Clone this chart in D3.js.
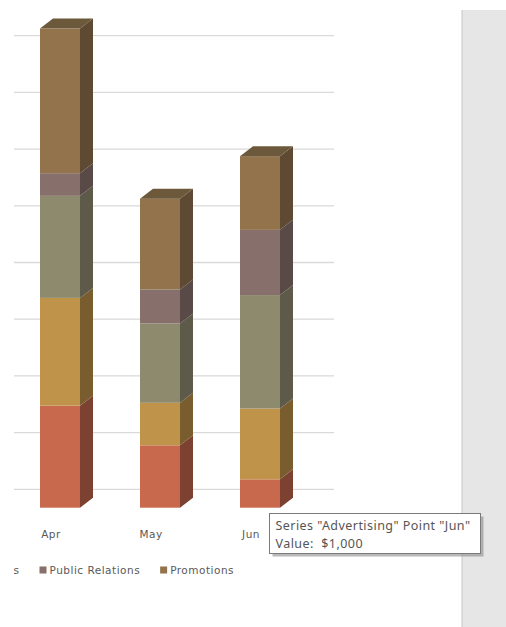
<!DOCTYPE html>
<html>
<head>
<meta charset="utf-8">
<script src="https://cdn.jsdelivr.net/npm/d3@7"></script>
<style>
  html, body { margin: 0; padding: 0; background: #fff; }
  svg { display: block; }
</style>
</head>
<body>
<svg id="chart" width="506" height="627"></svg>
<script>
// ---- data ----
const categories = ["Apr", "May", "Jun"];
const seriesNames = ["Advertising", "Direct Marketing", "Trade Shows", "Public Relations", "Promotions"];
const advertising     = [3600, 2200, 1000];
const directMarketing = [3800, 1500, 2500];
const tradeShows      = [3600, 2800, 4000];
const publicRelations = [800, 1200, 2300];
const promotions      = [5100, 3200, 2600];
const yTickValues = [0, 2000, 4000, 6000, 8000, 10000, 12000, 14000, 16000, 18000];
const tooltipSeries = "Advertising";
const tooltipPoint = "Jun";

// ---- styles ----
const frontColors = ["#C8694D", "#BF944A", "#8E8A6D", "#87706B", "#92734C"];
const sideColors  = ["#7D4132", "#7A5D2E", "#5D5A4A", "#594947", "#5E4A32"];
const topColor    = "#6C583B";

const seriesValues = [advertising, directMarketing, tradeShows, publicRelations, promotions];
const rows = categories.map((c, i) => {
  const r = { cat: c };
  seriesNames.forEach((s, j) => r[s] = seriesValues[j][i]);
  return r;
});
const stack = d3.stack().keys(seriesNames)(rows);

const svg = d3.select("#chart");
const baseY = 507.7;
const y = d3.scaleLinear().domain([0, 18000]).range([baseY, baseY - 18 * 28.35]);
const x = d3.scaleBand().domain(categories).range([10, 310]).paddingInner(0.6).paddingOuter(0.3);
const dx = 13, dy = -10;         // bar depth
const wallDy = -18.4;            // back wall offset

svg.append("defs").append("clipPath").attr("id", "chartClip")
  .append("rect").attr("x", 13).attr("y", 0).attr("width", 493).attr("height", 627);

// gridlines on back wall
svg.append("g").selectAll("line")
  .data(yTickValues)
  .join("line")
  .attr("x1", 14).attr("x2", 334)
  .attr("y1", d => y(d) + wallDy).attr("y2", d => y(d) + wallDy)
  .attr("stroke", "#d9d9d9").attr("stroke-width", 1.3);

// bars
const bars = svg.append("g");
categories.forEach((c, i) => {
  const x0 = x(c), x1 = x0 + x.bandwidth();
  const g = bars.append("g");
  stack.forEach((layer, j) => {
    const yb = y(layer[i][0]), yt = y(layer[i][1]);
    g.append("rect")
      .attr("x", x0).attr("y", yt).attr("width", x1 - x0).attr("height", yb - yt)
      .attr("fill", frontColors[j]);
    g.append("path")
      .attr("d", `M${x1},${yt}L${x1 + dx},${yt + dy}L${x1 + dx},${yb + dy}L${x1},${yb}Z`)
      .attr("fill", sideColors[j]);
  });
  const topV = y(stack[stack.length - 1][i][1]);
  g.append("path")
    .attr("d", `M${x0},${topV}L${x0 + dx},${topV + dy}L${x1 + dx},${topV + dy}L${x1},${topV}Z`)
    .attr("fill", topColor);
});

// category labels
svg.append("g").selectAll("text")
  .data(categories)
  .join("text")
  .attr("x", d => x(d) + x.bandwidth() / 2 - 9)
  .attr("y", 538)
  .attr("text-anchor", "middle")
  .attr("font-family", "DejaVu Sans, sans-serif")
  .attr("font-size", 10.5)
  .attr("letter-spacing", 0.5)
  .attr("fill", "#595959")
  .text(d => d);

// legend (left part cropped off by the chart area edge)
const legend = svg.append("g").attr("clip-path", "url(#chartClip)")
  .attr("font-family", "DejaVu Sans, sans-serif")
  .attr("font-size", 10.5).attr("letter-spacing", 0.5).attr("fill", "#595959");
const prIndex = seriesNames.indexOf("Public Relations");
const items = seriesNames.map((s, j) => {
  const g = legend.append("g");
  g.append("rect").attr("x", 0).attr("y", -3.5).attr("width", 7).attr("height", 7).attr("fill", frontColors[j]);
  const t = g.append("text").attr("x", 10).attr("y", 4).text(s);
  return { g, w: 10 + t.node().getComputedTextLength() };
});
const gap = 20;
let pos = [];
pos[prIndex] = 39.5;
for (let j = prIndex - 1; j >= 0; j--) pos[j] = pos[j + 1] - gap - items[j].w;
for (let j = prIndex + 1; j < items.length; j++) pos[j] = pos[j - 1] + items[j - 1].w + gap;
items.forEach((it, j) => it.g.attr("transform", `translate(${pos[j]},570)`));

// right gray panel
svg.append("rect").attr("x", 462).attr("y", 10).attr("width", 44).attr("height", 617).attr("fill", "#e6e6e6");
svg.append("line").attr("x1", 462).attr("x2", 462).attr("y1", 10).attr("y2", 627).attr("stroke", "#c6c6c6").attr("stroke-width", 1);

// tooltip
const tip = svg.append("g").attr("transform", "translate(269.5,513.5)");
tip.append("rect").attr("x", 3).attr("y", 3).attr("width", 211).attr("height", 40).attr("fill", "#8a8a8a").attr("opacity", 0.6);
tip.append("rect").attr("width", 211).attr("height", 40).attr("fill", "#fff").attr("stroke", "#7a7a7a");
const tipVal = advertising[categories.indexOf(tooltipPoint)];
tip.append("text").attr("x", 6).attr("y", 16)
  .attr("font-family", "Noto Sans, sans-serif").attr("font-size", 12.5).attr("letter-spacing", 0.45).attr("fill", "#555")
  .text(`Series "${tooltipSeries}" Point "${tooltipPoint}"`);
tip.append("text").attr("x", 6).attr("y", 34)
  .attr("font-family", "Noto Sans, sans-serif").attr("font-size", 12.5).attr("letter-spacing", 0.45).attr("fill", "#555")
  .attr("xml:space", "preserve")
  .text(`Value:  ${d3.format("$,")(tipVal)}`);
</script>
</body>
</html>
